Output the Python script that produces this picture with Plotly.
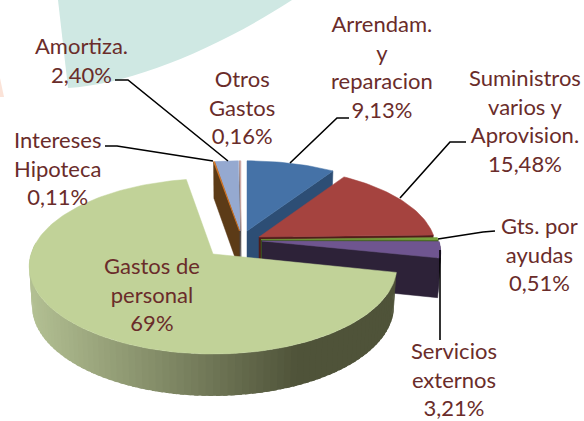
import math
import plotly.graph_objects as go

# Data
names = ["Arrendam.<br>y<br>reparacion", "Suministros<br>varios y<br>Aprovision.", "Gts. por<br>ayudas",
         "Servicios<br>externos", "Gastos de<br>personal", "Intereses<br>Hipoteca", "Amortiza.", "Otros<br>Gastos"]
values = [9.13, 15.48, 0.51, 3.21, 69, 0.11, 2.40, 0.16]
value_labels = ["9,13%", "15,48%", "0,51%", "3,21%", "69%", "0,11%", "2,40%", "0,16%"]

# Style
top_colors = ["#4572a7", "#a5433f", "#76a03c", "#6f5590", "#c1d298", "#e07a20", "#95a9d0", "#d0aaa6"]
face_colors = ["#2d4e75", "#501d1a", "#3f5a1e", "#2d2238", "#52563c", "#5c3b17", "#3f5070", "#4a3a30"]
apex = [(247, 231), (259, 237), (261, 239.5), (262, 241), (213, 254), (239.5, 231), (240, 231), (241, 231)]
radii = [(177, 80), (175, 80), (177, 80), (177, 80), (182, 86), (177, 80), (177, 80), (177, 80)]
label_pos = [(382, 66), (525, 120), (539, 254), (454, 379), (152, 294), (57, 168), (81, 60), (242, 107)]
draw_order = [7, 6, 5, 0, 1, 2, 3, 4]
P = 0.14
H = 39
TEXT = "#6a2c2a"

fig = go.Figure()


def proj(i, deg):
    t = math.radians(deg)
    u, v = math.sin(t), math.cos(t)
    f = 1 / (1 + P * v)
    ax, ay = apex[i]
    rx, ry = radii[i]
    return ax + rx * u * f, ay - ry * v * f, v


def down(i, pt, v=None):
    x, y = pt[0], pt[1]
    ax = apex[i][0]
    vv = 0 if v is None else v
    return ax + (x - ax) * 0.985, y + H / (1 + 0.07 * vv)


def poly(pts, color, lw=0.5):
    fig.add_trace(go.Scatter(x=[p[0] for p in pts] + [pts[0][0]], y=[p[1] for p in pts] + [pts[0][1]],
                             mode="lines", fill="toself", fillcolor=color,
                             line=dict(color=color, width=lw), hoverinfo="skip", showlegend=False))


def mix(a, b, t):
    ca = [int(a[j:j + 2], 16) for j in (1, 3, 5)]
    cb = [int(b[j:j + 2], 16) for j in (1, 3, 5)]
    return "rgb(%d,%d,%d)" % tuple(round(x + (y - x) * t) for x, y in zip(ca, cb))


bounds = []
acc = 0
for val in values:
    bounds.append((acc * 3.6, (acc + val) * 3.6))
    acc += val

for i in draw_order:
    a0, a1 = bounds[i]
    ax, ay = apex[i]
    # side cut faces that look toward the viewer
    for ang, vis in ((a1, math.sin(math.radians(a1)) > 0), (a0, math.sin(math.radians(a0)) < 0)):
        if vis:
            p = proj(i, ang)
            q = down(i, p, p[2])
            poly([(ax, ay), p[:2], q, (ax, ay + H)], face_colors[i])
    # outer rim, front half only
    lo, hi = max(a0, 90), min(a1, 278)
    if hi > lo:
        n = max(1, int((hi - lo) / 2))
        for k in range(n):
            d0, d1 = lo + (hi - lo) * k / n, lo + (hi - lo) * (k + 1) / n
            if k < n - 1:
                d2 = lo + (hi - lo) * (k + 1.6) / n
            else:
                d2 = d1
            p0, p1, p2 = proj(i, d0), proj(i, d1), proj(i, d2)
            xm = (p0[0] + p1[0]) / 2
            col = face_colors[i]
            if i == 4:
                col = mix("#b2bf92", "#4f5339", min(1, max(0, (xm - 33) / 265)))
            # each band overlaps the next so no pale seams appear
            poly([p0[:2], p2[:2], down(i, p2, p2[2]), down(i, p0, p0[2])], col, lw=0)
    # top
    n = max(2, int((a1 - a0) / 1.5))
    arc = [proj(i, a0 + (a1 - a0) * k / n)[:2] for k in range(n + 1)]
    poly([(ax, ay)] + arc, top_colors[i])

# Leader lines
leaders = [
    [(115, 80), (128, 80), (228, 161)],
    [(105, 146), (117, 146), (213, 161)],
    [(349, 118), (337, 118), (290, 163)],
    [(466, 142), (450, 142), (400, 198)],
    [(495, 231), (483, 232), (438, 239)],
    [(440, 250), (440, 340)],
]
for L in leaders:
    fig.add_trace(go.Scatter(x=[p[0] for p in L], y=[p[1] for p in L], mode="lines",
                             line=dict(color="#000000", width=1.6), hoverinfo="skip", showlegend=False))

# Labels
for i, (nm, lab) in enumerate(zip(names, value_labels)):
    fig.add_annotation(x=label_pos[i][0], y=label_pos[i][1], text=nm + "<br>" + lab, showarrow=False,
                       xanchor="center", yanchor="middle", align="center",
                       font=dict(family="Lato", size=22, color=TEXT))

fig.update_layout(
    width=584, height=421, margin=dict(l=0, r=0, t=0, b=0),
    paper_bgcolor="#ffffff", plot_bgcolor="#ffffff", showlegend=False,
    xaxis=dict(range=[0, 584], visible=False, fixedrange=True),
    yaxis=dict(range=[421, 0], visible=False, fixedrange=True),
    shapes=[
        dict(type="path", layer="below", line=dict(width=0), fillcolor="#cfe8e3",
             path="M 58 0 L 68 88 C 130 84 215 50 292 0 Z"),
        dict(type="path", layer="below", line=dict(width=0), fillcolor="#fbe3d8",
             path="M 0 78 L 4 97 L 0 97 Z"),
    ],
)
fig.write_html("out.html", post_script="document.body.style.margin='0';", config={"displayModeBar": False})
